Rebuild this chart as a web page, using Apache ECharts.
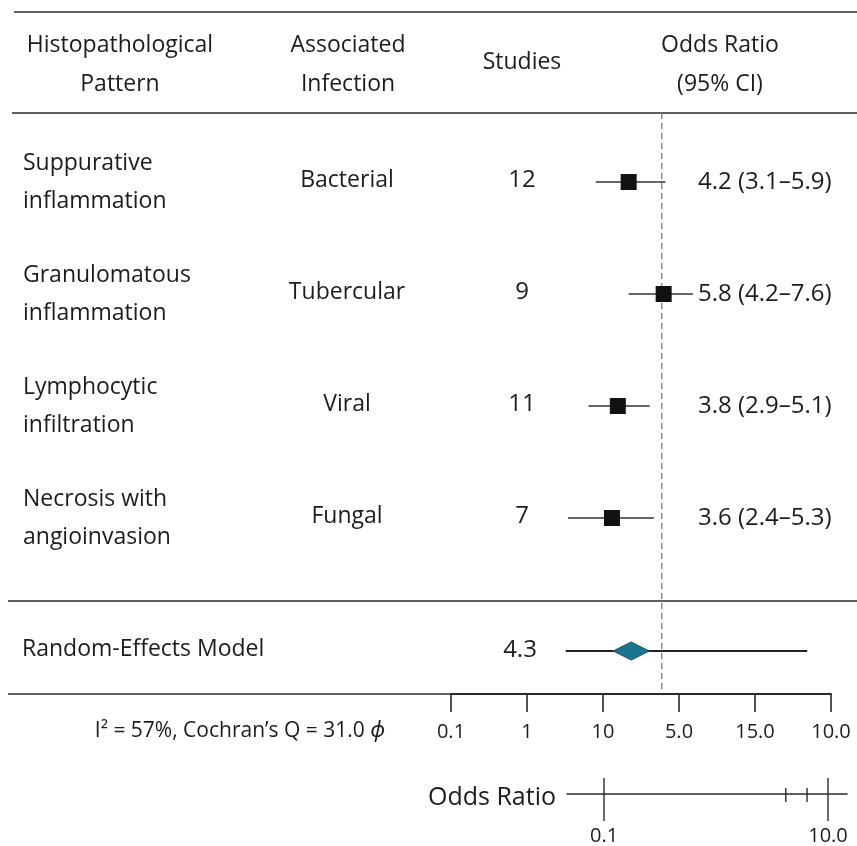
<!DOCTYPE html>
<html>
<head>
<meta charset="utf-8">
<script src="https://cdn.jsdelivr.net/npm/echarts@6/dist/echarts.min.js"></script>
<style>
  html, body { margin: 0; padding: 0; background: #ffffff; }
  #chart { width: 857px; height: 846px; }
</style>
</head>
<body>
<div id="chart"></div>
<script>
// ---- study data ----
const patterns = [
  'Suppurative\ninflammation',
  'Granulomatous\ninflammation',
  'Lymphocytic\ninfiltration',
  'Necrosis with\nangioinvasion'
];
const infections = ['Bacterial', 'Tubercular', 'Viral', 'Fungal'];
const studies = [12, 9, 11, 7];
const oddsRatio = [4.2, 5.8, 3.8, 3.6];
const ciLower = [3.1, 4.2, 2.9, 2.4];
const ciUpper = [5.9, 7.6, 5.1, 5.3];

// ---- pooled estimate ----
const pooledLabel = 'Random-Effects Model';
const pooledOR = 4.3;
const pooledRange = [2.35, 21.8];
const referenceOR = 5.7;
const heterogeneityText = 'I\u00b2 = 57%, Cochran\u2019s Q = 31.0 ';

// ---- scale labels ----
const scaleTickLabels = ['0.1', '1', '10', '5.0', '15.0', '10.0'];
const oddsAxisTicks = [0.1, 4.2, 6.5, 10];
const oddsAxisLabelValues = [0.1, 10];
const oddsAxisLabelText = ['0.1', '10.0'];

// ---- header ----
const headers = [
  { text: 'Histopathological\nPattern', x: 120, y: 65 },
  { text: 'Associated\nInfection', x: 348, y: 65 },
  { text: 'Studies', x: 522, y: 62 },
  { text: 'Odds Ratio\n(95% CI)', x: 720, y: 65 }
];

const FONT = '"Open Sans", "Noto Sans", sans-serif';
const INK = '#1c1c1c';
const RULE = '#2a2a2a';
const TEXT_SIZE = 23;
const NUM_SIZE = 24;

function fmt(v) { return v.toFixed(1); }
function orLabel(i) {
  return fmt(oddsRatio[i]) + ' (' + fmt(ciLower[i]) + '\u2013' + fmt(ciUpper[i]) + ')';
}

function txt(text, x, y, size, align, extra) {
  return {
    type: 'text',
    style: Object.assign({
      text: text, x: x, y: y,
      fill: INK,
      font: size + 'px ' + FONT,
      fontSize: size, fontFamily: FONT,
      align: align, textAlign: align,
      verticalAlign: 'middle', textVerticalAlign: 'middle'
    }, extra || {})
  };
}

// shared odds-ratio x scale for the plot panels (log)
const X_LEFT = 473.1, X_WIDTH = 368.7;
function plotXAxis(gridIndex) {
  return { type: 'log', logBase: 10, min: 1, max: 30, gridIndex: gridIndex, show: false };
}

const chart = echarts.init(document.getElementById('chart'), null, { renderer: 'canvas' });

const option = {
  backgroundColor: '#ffffff',
  animation: false,
  grid: [
    { left: X_LEFT, width: X_WIDTH, top: 126, height: 448 },   // study rows
    { left: X_LEFT, width: X_WIDTH, top: 620, height: 62 },    // pooled row
    { left: X_LEFT, width: X_WIDTH, top: 113, height: 580 },   // reference line
    { left: 451, width: 380, top: 693, height: 1 },            // scale row
    { left: 567, width: 280, top: 793, height: 1 }             // odds ratio axis
  ],
  xAxis: [
    plotXAxis(0),
    plotXAxis(1),
    plotXAxis(2),
    {
      type: 'category', gridIndex: 3, data: scaleTickLabels, boundaryGap: false,
      axisLine: { show: true, lineStyle: { color: RULE, width: 2 } },
      axisTick: { show: true, length: 18, lineStyle: { color: RULE, width: 1.6 } },
      axisLabel: { interval: 0, margin: 28, fontSize: 20, fontFamily: FONT, color: INK },
      splitLine: { show: false }
    },
    {
      type: 'log', logBase: 10, gridIndex: 4, min: 0.04673, max: 14.78,
      axisLine: { show: true, lineStyle: { color: RULE, width: 1.5 } },
      axisTick: { show: false },
      axisLabel: {
        customValues: oddsAxisLabelValues,
        margin: 32, fontSize: 20, fontFamily: FONT, color: INK,
        formatter: function (v) {
          const i = oddsAxisLabelValues.findIndex(function (t) { return Math.abs(t - v) / t < 1e-6; });
          return i >= 0 ? oddsAxisLabelText[i] : '';
        }
      },
      splitLine: { show: false }
    }
  ],
  yAxis: [
    { type: 'category', gridIndex: 0, data: patterns, inverse: true, show: false },
    { type: 'category', gridIndex: 1, data: [pooledLabel], show: false },
    { type: 'value', gridIndex: 2, min: 0, max: 1, show: false },
    { type: 'value', gridIndex: 3, min: 0, max: 1, show: false },
    { type: 'value', gridIndex: 4, min: 0, max: 1, show: false }
  ],
  series: [
    {
      // dashed reference line
      type: 'custom', xAxisIndex: 2, yAxisIndex: 2, z: 1,
      data: [[referenceOR, 0]],
      encode: { x: 0, y: 1 },
      renderItem: function (params, api) {
        const x = api.coord([api.value(0), 0])[0];
        const cs = params.coordSys;
        return {
          type: 'line',
          shape: { x1: x, y1: cs.y, x2: x, y2: cs.y + cs.height },
          style: { stroke: '#7a7a7a', lineWidth: 1.3, lineDash: [6, 4] }
        };
      }
    },
    {
      // study rows: CI whisker, point estimate and table columns
      type: 'custom', xAxisIndex: 0, yAxisIndex: 0, z: 3,
      data: patterns.map(function (p, i) { return [oddsRatio[i], ciLower[i], ciUpper[i], p]; }),
      encode: { x: 0, y: 3 },
      renderItem: function (params, api) {
        const i = params.dataIndex;
        const yi = api.value(3);
        const pEst = api.coord([api.value(0), yi]);
        const pLo = api.coord([api.value(1), yi]);
        const pHi = api.coord([api.value(2), yi]);
        const y = pEst[1];
        return {
          type: 'group',
          children: [
            { type: 'line', shape: { x1: pLo[0], y1: y, x2: pHi[0], y2: y },
              style: { stroke: '#333333', lineWidth: 1.3 } },
            { type: 'rect', shape: { x: pEst[0] - 8, y: y - 8, width: 16, height: 16 },
              style: { fill: '#111111' } },
            txt(patterns[i], 23, y, TEXT_SIZE, 'left', { lineHeight: 38 }),
            txt(infections[i], 347, y - 2, TEXT_SIZE, 'center'),
            txt(String(studies[i]), 522, y - 2, NUM_SIZE, 'center'),
            txt(orLabel(i), 698, y, NUM_SIZE, 'left')
          ]
        };
      }
    },
    {
      // pooled random-effects estimate
      type: 'custom', xAxisIndex: 1, yAxisIndex: 1, z: 3,
      data: [[pooledOR, pooledRange[0], pooledRange[1], pooledLabel]],
      encode: { x: 0, y: 3 },
      renderItem: function (params, api) {
        const yi = api.value(3);
        const pEst = api.coord([api.value(0), yi]);
        const pLo = api.coord([api.value(1), yi]);
        const pHi = api.coord([api.value(2), yi]);
        const y = pEst[1];
        const cx = pEst[0];
        return {
          type: 'group',
          children: [
            { type: 'line', shape: { x1: pLo[0], y1: y, x2: pHi[0], y2: y },
              style: { stroke: '#222222', lineWidth: 1.8 } },
            { type: 'polygon',
              shape: { points: [[cx - 18, y], [cx, y - 9], [cx + 18, y], [cx, y + 9]] },
              style: { fill: '#1b7590', stroke: '#10566b', lineWidth: 1 } },
            txt(pooledLabel, 22, y - 2, TEXT_SIZE, 'left'),
            txt(fmt(pooledOR), 520, y - 1, NUM_SIZE, 'center')
          ]
        };
      }
    },
    {
      // ticks on the odds ratio axis
      type: 'custom', xAxisIndex: 4, yAxisIndex: 4, z: 3,
      data: oddsAxisTicks.map(function (v) { return [v, 0]; }),
      encode: { x: 0, y: 1 },
      renderItem: function (params, api) {
        const v = api.value(0);
        const p = api.coord([v, 0]);
        const major = oddsAxisLabelValues.some(function (t) { return Math.abs(t - v) / t < 1e-6; });
        const up = major ? 16 : 6, down = major ? 27 : 8;
        return {
          type: 'line',
          shape: { x1: p[0], y1: p[1] - up, x2: p[0], y2: p[1] + down },
          style: { stroke: RULE, lineWidth: 1.4 }
        };
      }
    }
  ],
  graphic: [
    { type: 'line', shape: { x1: 14, y1: 12, x2: 857, y2: 12 }, style: { stroke: RULE, lineWidth: 1.5 } },
    { type: 'line', shape: { x1: 12, y1: 113, x2: 857, y2: 113 }, style: { stroke: RULE, lineWidth: 1.5 } },
    { type: 'line', shape: { x1: 8, y1: 601, x2: 857, y2: 601 }, style: { stroke: RULE, lineWidth: 1.4 } },
    { type: 'line', shape: { x1: 8, y1: 694, x2: 452, y2: 694 }, style: { stroke: RULE, lineWidth: 1.6 } }
  ].concat(headers.map(function (h) {
    return txt(h.text, h.x, h.y, TEXT_SIZE, 'center', { lineHeight: 39 });
  })).concat([
    {
      type: 'text',
      style: {
        text: '{a|' + heterogeneityText + '}{b|\u03d5}',
        x: 240, y: 731,
        align: 'center', textAlign: 'center',
        verticalAlign: 'middle', textVerticalAlign: 'middle',
        rich: {
          a: { fontSize: 21, fontFamily: FONT, fill: INK, color: INK },
          b: { fontSize: 22, fontFamily: FONT, fontStyle: 'italic', fill: INK, color: INK }
        }
      }
    },
    txt('Odds Ratio', 556, 798, 25, 'right')
  ])
};

chart.setOption(option);
</script>
</body>
</html>
